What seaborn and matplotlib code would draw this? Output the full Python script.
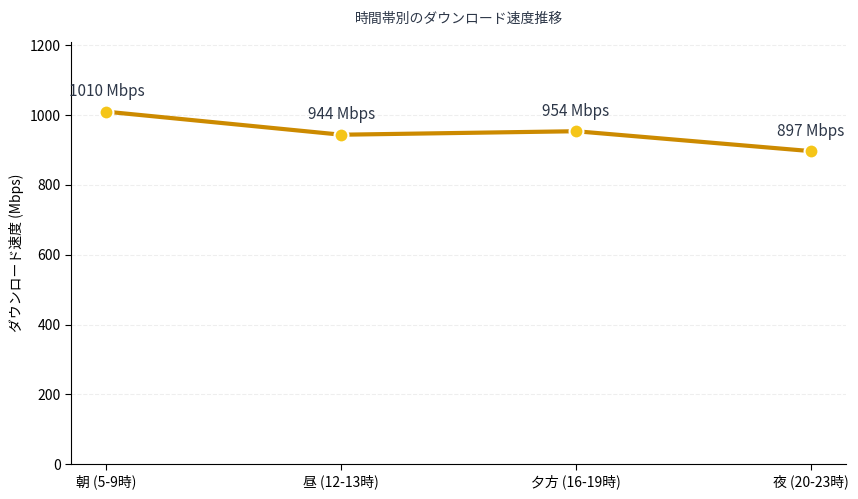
import pandas as pd
import seaborn as sns
import matplotlib.pyplot as plt

periods = ['朝 (5-9時)', '昼 (12-13時)', '夕方 (16-19時)', '夜 (20-23時)']
speeds = [1010, 944, 954, 897]
yticks = [0, 200, 400, 600, 800, 1000, 1200]

sns.set_style('white')
plt.rcParams['font.family'] = ['Noto Sans CJK JP', 'DejaVu Sans']

df = pd.DataFrame({'period': periods, 'speed': speeds})

fig, ax = plt.subplots(figsize=(8.58, 4.99), dpi=100)
sns.lineplot(data=df, x='period', y='speed', ax=ax, color='#CC8A00', linewidth=3,
             marker='o', markersize=10, markerfacecolor='#F5C518',
             markeredgecolor='white', markeredgewidth=1.5, sort=False)

# value labels above each point
for i, v in enumerate(speeds):
    ax.annotate(f'{v} Mbps', (i, v), textcoords='offset points', xytext=(0, 11),
                ha='center', fontsize=11, color='#2D3748')

ax.set_xlim(-0.15, 3.15)
ax.set_ylim(0, 1210)
ax.set_yticks(yticks)
ax.yaxis.grid(True, linestyle='--', color='#EEEEEE', linewidth=0.8)
ax.set_axisbelow(True)
ax.set_xlabel('')
ax.set_ylabel('ダウンロード速度 (Mbps)', fontsize=10, color='black')
ax.set_title('時間帯別のダウンロード速度推移', fontsize=10, color='#2D3748', pad=14)
ax.tick_params(axis='both', labelsize=10, length=4, color='black', labelcolor='black',
               bottom=True, left=True)
for s in ['top', 'right']:
    ax.spines[s].set_visible(False)
for s in ['left', 'bottom']:
    ax.spines[s].set_color('black')

plt.subplots_adjust(left=0.083, right=0.986, top=0.916, bottom=0.07)
plt.savefig('out.png', dpi=100)
